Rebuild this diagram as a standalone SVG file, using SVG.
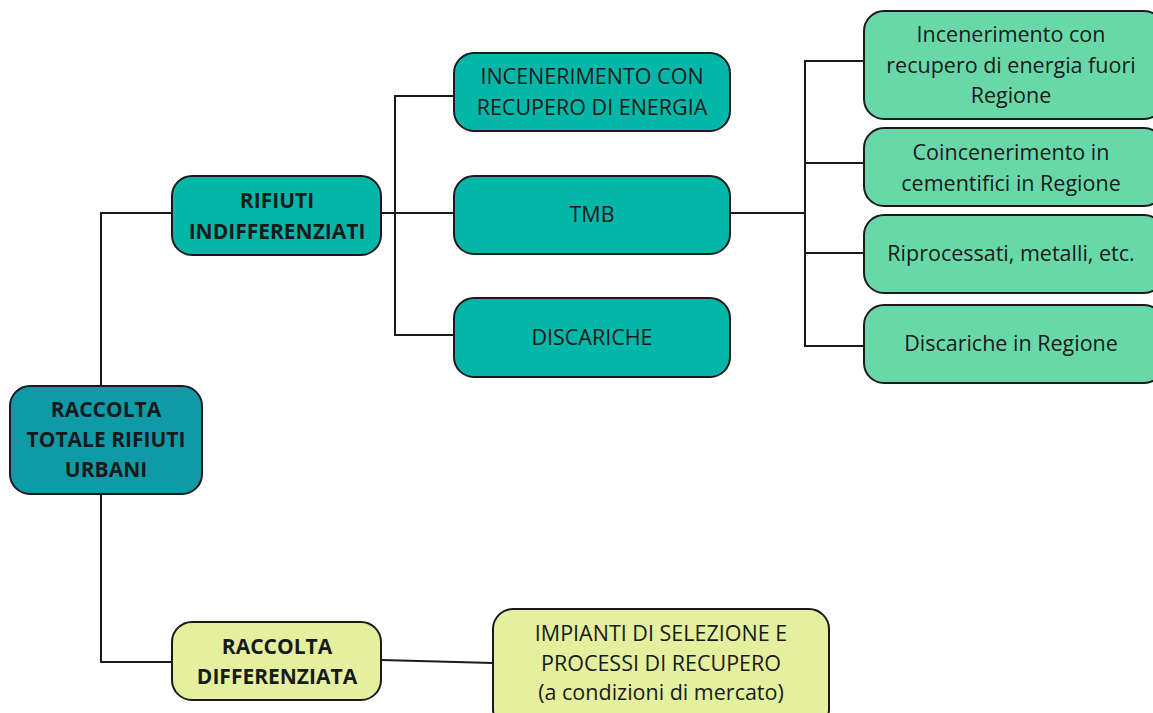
<svg xmlns="http://www.w3.org/2000/svg" width="1153" height="713" viewBox="0 0 1153 713">
<style>
.n{stroke:#1a1a1a;stroke-width:2}
.c{fill:none;stroke:#1a1a1a;stroke-width:2}
.t{font-family:"Open Sans","Liberation Sans",sans-serif;font-size:21.5px;fill:#1a1a1a;text-anchor:middle}
.b{font-weight:bold;font-size:21px}
.teal{fill:#02b7a8}
.dark{fill:#0f9aa7}
.lg{fill:#68d8a9}
.yl{fill:#e4f09e}
</style>
<rect width="1153" height="713" fill="#ffffff"/>
<g id="connectors">
<path class="c" d="M101,386 V213 H172"/>
<path class="c" d="M101,494 V662 H172"/>
<path class="c" d="M381,213 H454"/>
<path class="c" d="M454,96 H395 V335 H454"/>
<path class="c" d="M730,213 H805"/>
<path class="c" d="M864,61 H805 V346 H864"/>
<path class="c" d="M805,163 H864"/>
<path class="c" d="M805,253 H864"/>
<path class="c" d="M381,660 L493,663"/>
</g>
<g id="root">
<rect class="n dark" x="10" y="386" width="192" height="108" rx="20"/>
<text class="t b" x="106" y="417">RACCOLTA</text>
<text class="t b" x="106" y="447">TOTALE RIFIUTI</text>
<text class="t b" x="106" y="477">URBANI</text>
</g>
<g id="indiff">
<rect class="n teal" x="172" y="176" width="209" height="79" rx="20"/>
<text class="t b" x="277" y="208">RIFIUTI</text>
<text class="t b" x="277" y="239">INDIFFERENZIATI</text>
</g>
<g id="inc">
<rect class="n teal" x="454" y="53" width="276" height="78" rx="20"/>
<text class="t" x="592" y="84">INCENERIMENTO CON</text>
<text class="t" x="592" y="115">RECUPERO DI ENERGIA</text>
</g>
<g id="tmb">
<rect class="n teal" x="454" y="176" width="276" height="78" rx="20"/>
<text class="t" x="592" y="222">TMB</text>
</g>
<g id="disc">
<rect class="n teal" x="454" y="298" width="276" height="79" rx="20"/>
<text class="t" x="592" y="345">DISCARICHE</text>
</g>
<g id="r1">
<rect class="n lg" x="864" y="11" width="300" height="108" rx="20"/>
<text class="t" x="1011" y="42">Incenerimento con</text>
<text class="t" x="1011" y="73">recupero di energia fuori</text>
<text class="t" x="1011" y="103">Regione</text>
</g>
<g id="r2">
<rect class="n lg" x="864" y="128" width="300" height="78" rx="20"/>
<text class="t" x="1011" y="160">Coincenerimento in</text>
<text class="t" x="1011" y="191">cementifici in Regione</text>
</g>
<g id="r3">
<rect class="n lg" x="864" y="215" width="300" height="78" rx="20"/>
<text class="t" x="1011" y="261">Riprocessati, metalli, etc.</text>
</g>
<g id="r4">
<rect class="n lg" x="864" y="305" width="300" height="78" rx="20"/>
<text class="t" x="1011" y="351">Discariche in Regione</text>
</g>
<g id="diff">
<rect class="n yl" x="172" y="622" width="209" height="78" rx="20"/>
<text class="t b" x="277" y="654">RACCOLTA</text>
<text class="t b" x="277" y="684">DIFFERENZIATA</text>
</g>
<g id="impianti">
<rect class="n yl" x="493" y="609" width="336" height="120" rx="20"/>
<text class="t" x="661" y="641">IMPIANTI DI SELEZIONE E</text>
<text class="t" x="661" y="671">PROCESSI DI RECUPERO</text>
<text class="t" x="661" y="700">(a condizioni di mercato)</text>
</g>
</svg>
